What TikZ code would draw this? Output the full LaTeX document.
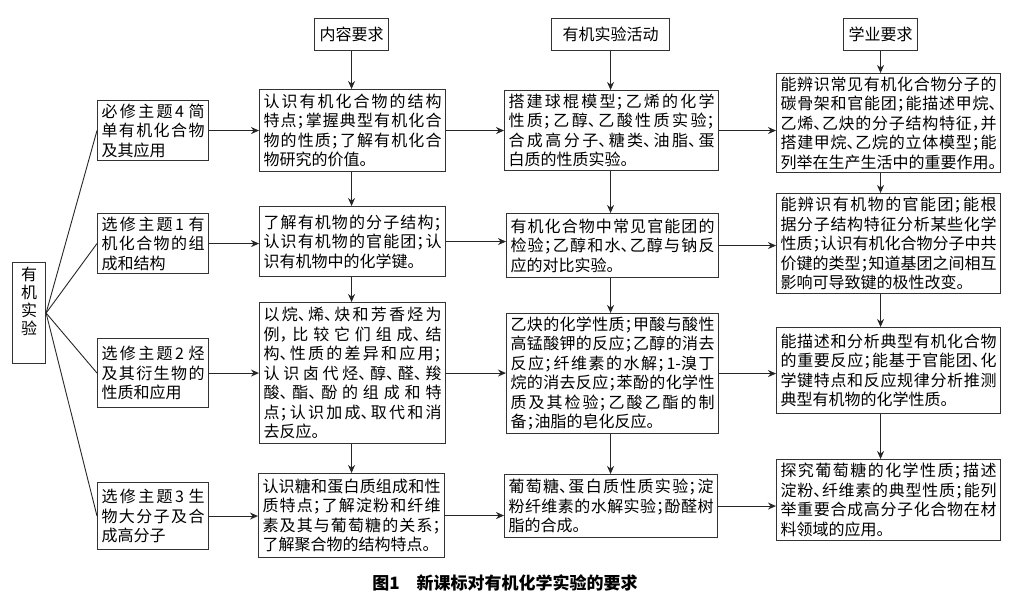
\documentclass[tikz,border=0pt]{standalone}
\usepackage{fontspec}
\setmainfont{Noto Sans CJK SC}[RawFeature={+halt}]
\XeTeXlinebreaklocale "zh"
\XeTeXlinebreakskip=0pt plus 4pt
\usetikzlibrary{arrows.meta}
\tolerance=10000
\hbadness=10000
\begin{document}
\begin{tikzpicture}[x=1pt,y=-1pt,
  bx/.style={draw=black!80, line width=1.1pt, inner xsep=4pt, inner ysep=2pt,
     align=justify, anchor=north west, font=\fontsize{16}{19.5}\selectfont},
  hd/.style={draw=black!80, line width=1.1pt, inner sep=0pt, anchor=north west,
     font=\fontsize{16}{19.5}\selectfont},
  arr/.style={draw=black!85, line width=1.1pt, -{Stealth[length=8pt,width=7pt]}},
  ln/.style={draw=black!85, line width=0.9pt}]
\useasboundingbox (0,0) rectangle (1015,604);

% headers
\node[hd, minimum width=74pt, minimum height=32pt] (h2) at (314,18) {内容要求};
\node[hd, minimum width=118pt, minimum height=32pt] (h3) at (551,18) {有机实验活动};
\node[hd, minimum width=74pt, minimum height=32pt] (h4) at (843,18) {学业要求};

% left root
\node[draw=black!80, line width=1.1pt, minimum width=33pt, minimum height=101pt,
   inner sep=0pt, align=center, anchor=north west,
   font=\fontsize{16}{18}\selectfont] (root) at (12,262) {有\\机\\实\\验\\[6pt]};

% column 1
\node[bx, text width=103pt, minimum height=60pt] (c1r1) at (97,100)
  {必修主题4 简\break 单有机化合物\break 及其应用};
\node[bx, text width=103pt, minimum height=60pt] (c1r2) at (97,213)
  {选修主题1 有\break 机化合物的组\break 成和结构};
\node[bx, text width=103pt, minimum height=69pt] (c1r3) at (97,338)
  {选修主题2 烃\break 及其衍生物的\break 性质和应用};
\node[bx, text width=103pt, minimum height=67pt] (c1r4) at (97,482)
  {选修主题3 生\break 物大分子及合\break 成高分子};

% column 2
\node[bx, text width=178pt, minimum height=82pt] (c2r1) at (259,89)
  {认识有机化合物的结构\break 特点；掌握典型有机化合\break 物的性质；了解有机化合\break 物研究的价值。};
\node[bx, text width=178pt, minimum height=70pt] (c2r2) at (259,206)
  {了解有机物的分子结构；\break 认识有机物的官能团；认\break 识有机物中的化学键。};
\node[bx, text width=178pt, minimum height=141pt] (c2r3) at (259,302)
  {以烷、烯、炔和芳香烃为\break 例，比较它们组成、结\break 构、性质的差异和应用；\break 认识卤代烃、醇、醛、羧\break 酸、酯、酚的组成和特\break 点；认识加成、取代和消\break 去反应。};
\node[bx, text width=178pt, minimum height=84pt] (c2r4) at (258,473)
  {认识糖和蛋白质组成和性\break 质特点；了解淀粉和纤维\break 素及其与葡萄糖的关系；\break 了解聚合物的结构特点。};

% column 3
\node[bx, text width=206pt, minimum height=80pt] (c3r1) at (504,90)
  {搭建球棍模型；乙烯的化学\break 性质；乙醇、乙酸性质实验；\break 合成高分子、糖类、油脂、蛋\break 白质的性质实验。};
\node[bx, text width=204pt, minimum height=64pt] (c3r2) at (506,213)
  {有机化合物中常见官能团的\break 检验；乙醇和水、乙醇与钠反\break 应的对比实验。};
\node[bx, text width=204pt, minimum height=120pt] (c3r3) at (506,313)
  {乙炔的化学性质；甲酸与酸性\break 高锰酸钾的反应；乙醇的消去\break 反应；纤维素的水解；1-溴丁\break 烷的消去反应；苯酚的化学性\break 质及其检验；乙酸乙酯的制\break 备；油脂的皂化反应。};
\node[bx, text width=205pt, minimum height=63pt] (c3r4) at (504,474)
  {葡萄糖、蛋白质性质实验；淀\break 粉纤维素的水解实验；酚醛树\break 脂的合成。};

% column 4
\node[bx, text width=216pt, minimum height=99pt] (c4r1) at (776,73)
  {能辨识常见有机化合物分子的\break 碳骨架和官能团；能描述甲烷、\break 乙烯、乙炔的分子结构特征，并\break 搭建甲烷、乙烷的立体模型；能\break 列举在生产生活中的重要作用。};
\node[bx, text width=216pt, minimum height=100pt] (c4r2) at (776,193)
  {能辨识有机物的官能团；能根\break 据分子结构特征分析某些化学\break 性质；认识有机化合物分子中共\break 价键的类型；知道基团之间相互\break 影响可导致键的极性改变。};
\node[bx, text width=216pt, minimum height=86pt] (c4r3) at (776,327)
  {能描述和分析典型有机化合物\break 的重要反应；能基于官能团、化\break 学键特点和反应规律分析推测\break 典型有机物的化学性质。};
\node[bx, text width=216pt, minimum height=81pt] (c4r4) at (776,459)
  {探究葡萄糖的化学性质；描述\break 淀粉、纤维素的典型性质；能列\break 举重要合成高分子化合物在材\break 料领域的应用。};

% caption
\node[font=\fontsize{17}{20}\selectfont\bfseries] (cap) at (505,583) {图1\quad 新课标对有机化学实验的要求};

% fan lines
\foreach \r in {c1r1,c1r2,c1r3,c1r4} \draw[ln] (root.east) -- (\r.west);

% vertical arrows
\draw[arr] (h2.south) -- (h2.south |- c2r1.north);
\draw[arr] (h3.south) -- (h3.south |- c3r1.north);
\draw[arr] (h4.south) -- (h4.south |- c4r1.north);
\foreach \a/\b in {c2r1/c2r2,c2r2/c2r3,c2r3/c2r4}
  \draw[arr] (h2.south |- \a.south) -- (h2.south |- \b.north);
\foreach \a/\b in {c3r1/c3r2,c3r2/c3r3,c3r3/c3r4}
  \draw[arr] (h3.south |- \a.south) -- (h3.south |- \b.north);
\foreach \a/\b in {c4r1/c4r2,c4r2/c4r3,c4r3/c4r4}
  \draw[arr] (h4.south |- \a.south) -- (h4.south |- \b.north);

% horizontal arrows
\foreach \i in {1,2,3,4}{
  \draw[arr] (c1r\i.east) -- (c1r\i.east -| c2r\i.west);
  \draw[arr] (c2r\i.east) -- (c2r\i.east -| c3r\i.west);
  \draw[arr] (c3r\i.east) -- (c3r\i.east -| c4r\i.west);
}
\end{tikzpicture}
\end{document}
